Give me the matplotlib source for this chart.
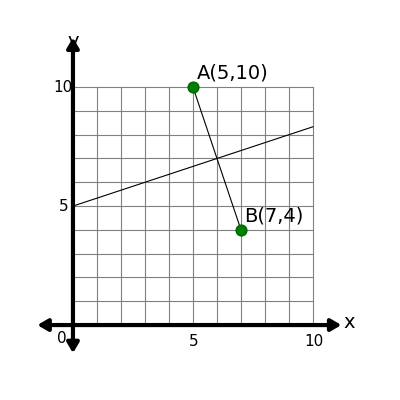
import matplotlib
matplotlib.use("Agg")
import matplotlib.pyplot as plt
import numpy as np

points_x = [5, 7]
points_y = [10, 4]
point_labels = ["A(5,10)", "B(7,4)"]
line_x = [0, 10]
line_y = [5, 5 + 10/3]
ticks = [5, 10]

fig = plt.figure(figsize=(4, 4), dpi=100)
ax = fig.add_axes([0, 0, 1, 1])
ax.set_xlim(-3.04, 13.625)
ax.set_ylim(-3.15, 13.66)
ax.axis("off")

for v in range(0, 11):
    ax.plot([v, v], [0, 10], color="gray", lw=0.8, zorder=1)
    ax.plot([0, 10], [v, v], color="gray", lw=0.8, zorder=1)

ax.annotate("", xy=(11.3, 0), xytext=(-1.6, 0),
            arrowprops=dict(arrowstyle="<|-|>,head_length=0.6,head_width=0.35", lw=3, color="black"), zorder=3)
ax.annotate("", xy=(0, 12.2), xytext=(0, -1.3),
            arrowprops=dict(arrowstyle="<|-|>,head_length=0.6,head_width=0.35", lw=3, color="black"), zorder=3)

ax.plot(line_x, line_y, color="black", lw=0.8, zorder=2)
ax.plot(points_x, points_y, color="black", lw=0.8, zorder=2)
ax.scatter(points_x, points_y, s=60, color="green", edgecolors="darkgreen", zorder=4)
for x, y, t in zip(points_x, points_y, point_labels):
    ax.text(x + 0.15, y + 0.2, t, fontsize=14, ha="left", va="bottom")

ax.text(-0.45, -0.55, "0", fontsize=11, ha="center", va="center")
for t in ticks:
    ax.text(t + 0.05, -0.7, str(t), fontsize=11, ha="center", va="center")
    ax.text(-0.4, t, str(t), fontsize=11, ha="center", va="center")
ax.text(11.5, 0.1, "x", fontsize=14, ha="center", va="center")
ax.text(0, 11.9, "y", fontsize=14, ha="center", va="center")

fig.savefig("out.png", dpi=100)
